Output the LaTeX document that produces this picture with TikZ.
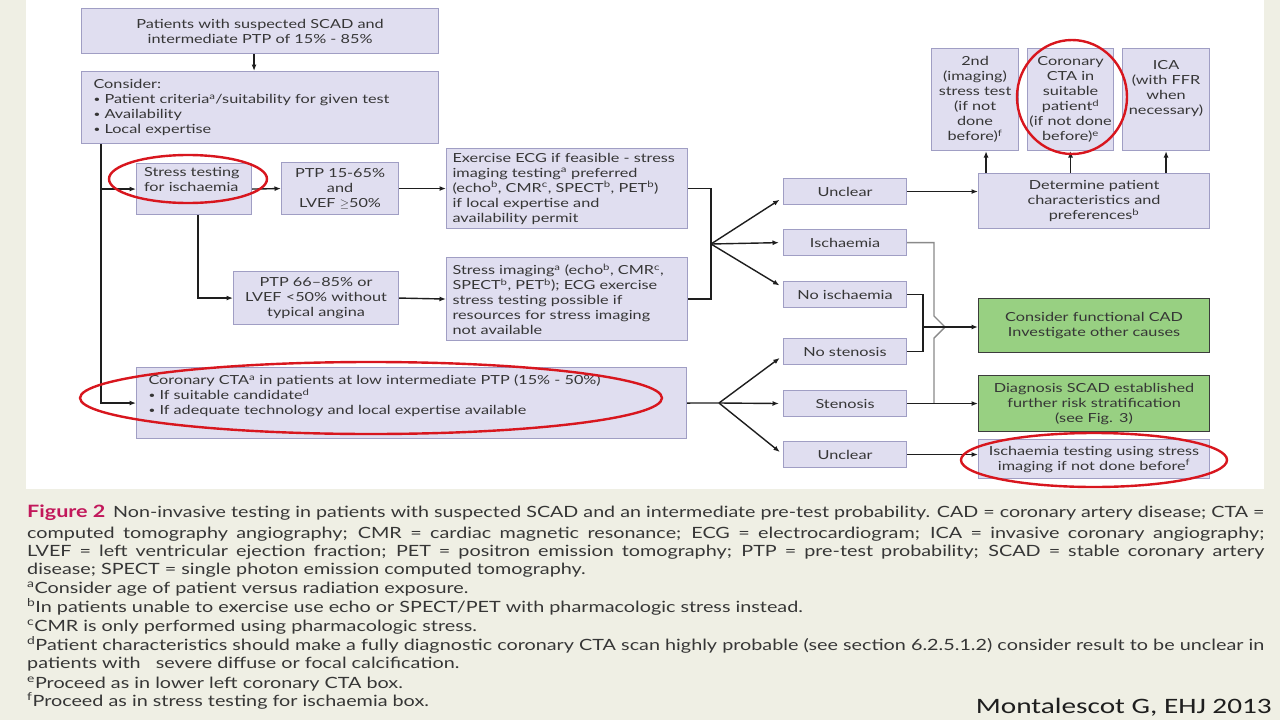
\documentclass[tikz,border=0pt]{standalone}
\usepackage{fontspec}
\usepackage{graphicx}
\usetikzlibrary{arrows.meta,calc}
\newfontfamily\boxfont[FakeStretch=1.3]{Lato}
\newfontfamily\capfont[FakeStretch=1.276]{Lato}
\newfontfamily\credfont[FakeStretch=1.33]{Carlito}
\newcommand\bxf{\boxfont\fontsize{12.5}{15}\selectfont}
\newcommand\cpf{\capfont\fontsize{15.5}{19}\selectfont}
\newcommand\sps[1]{\textsuperscript{#1}}
\newcommand\bul{{\fontsize{9}{10}\selectfont\raisebox{0.25ex}{•}}}
\newlength\jw
\newcommand\jline[1]{\settowidth\jw{#1}\ifdim\jw>1237pt\resizebox{1237pt}{\height}{#1}\else\makebox[1237pt][s]{#1}\fi}
\definecolor{pagebg}{HTML}{EFEFE4}
\definecolor{boxfill}{HTML}{E0DEF0}
\definecolor{boxline}{HTML}{A09EC4}
\definecolor{gfill}{HTML}{98D082}
\definecolor{gline}{HTML}{3C3C3C}
\definecolor{txt}{HTML}{363636}
\definecolor{ink}{HTML}{1E1E1E}
\definecolor{midgray}{HTML}{8A8A8A}
\definecolor{ringred}{HTML}{D8161E}
\definecolor{figred}{HTML}{C2185B}
\tikzset{
  box/.style={draw=boxline, fill=boxfill, line width=1.1pt, inner sep=0pt, anchor=north west, text=txt, font=\bxf},
  gbox/.style={box, draw=gline, fill=gfill},
  small/.style={box, minimum width=123, minimum height=26, text width=115pt, align=center},
  tall/.style={box, minimum height=102, align=center},
  link/.style={draw=ink, line width=1.4pt},
  arr/.style={link, -{Latex[length=6.5pt,width=5pt]}},
  fanarr/.style={arr, shorten >=4pt},
  grayln/.style={draw=midgray, line width=1.4pt},
  ring/.style={draw=ringred, line width=2.4pt},
  capl/.style={anchor=base west, inner sep=0pt, text=txt, font=\cpf}
}
\begin{document}
\begin{tikzpicture}[x=1pt,y=-1pt]
\useasboundingbox (0,0) rectangle (1280,720);
\fill[pagebg] (0,0) rectangle (1280,720);
\fill[white] (26,0) rectangle (1264,489);

% left column
\node[box, minimum width=357, minimum height=45, text width=345pt, align=center] (top) at (81,8)
  {Patients with suspected SCAD and\\intermediate PTP of 15\% - 85\%};
\node[box, minimum width=357, minimum height=72, text width=333pt, align=left] (consider) at (81,71)
  {Consider:\\\bul\ Patient criteria\sps{a}/suitability for given test\\\bul\ Availability\\\bul\ Local expertise};
\node[box, minimum width=115, minimum height=51, text width=100pt, align=left, text depth=35pt] (stress) at (136,163)
  {Stress testing\\for ischaemia};
\node[box, minimum width=117, minimum height=52, text width=105pt, align=center] (ptp1) at (281,162)
  {PTP 15-65\%\\and\\LVEF $\geq$50\%};
\node[box, minimum width=241, minimum height=80, text width=229pt, align=left] (ex) at (446,148)
  {Exercise ECG if feasible - stress\\imaging testing\sps{a} preferred\\(echo\sps{b}, CMR\sps{c}, SPECT\sps{b}, PET\sps{b})\\if local expertise and\\availability permit};
\node[box, minimum width=165, minimum height=53, text width=155pt, align=center] (ptp2) at (233,271)
  {PTP 66–85\% or\\LVEF <50\% without\\typical angina};
\node[box, minimum width=241, minimum height=83, text width=229pt, align=left] (si) at (446,257)
  {Stress imaging\sps{a} (echo\sps{b}, CMR\sps{c},\\SPECT\sps{b}, PET\sps{b}); ECG exercise\\stress testing possible if\\resources for stress imaging\\not available};
\node[box, minimum width=550, minimum height=71, text width=526pt, align=left, text depth=46pt] (cta) at (136,367)
  {Coronary CTA\sps{a} in patients at low intermediate PTP (15\% - 50\%)\\\bul\ If suitable candidate\sps{d}\\\bul\ If adequate technology and local expertise available};

% result boxes
\node[small] (u1) at (783,178) {Unclear};
\node[small] (isc) at (783,229) {Ischaemia};
\node[small] (noi) at (783,281) {No ischaemia};
\node[small] (nos) at (783,338) {No stenosis};
\node[small] (sten) at (783,390) {Stenosis};
\node[small] (u2) at (783,441) {Unclear};

% right column
\node[box, minimum width=231, minimum height=55, text width=219pt, align=center] (det) at (978,173)
  {Determine patient\\characteristics and\\preferences\sps{b}};
\node[gbox, minimum width=231, minimum height=54, text width=219pt, align=center] (fc) at (978,298)
  {Consider functional CAD\\Investigate other causes};
\node[gbox, minimum width=231, minimum height=56, text width=219pt, align=center] (diag) at (978,375)
  {Diagnosis SCAD established\\further risk stratification\\(see Fig. 3)};
\node[box, minimum width=231, minimum height=39, text width=219pt, align=center] (it) at (978,439)
  {Ischaemia testing using stress\\imaging if not done before\sps{f}};
\node[tall, minimum width=87, text width=83pt] (b1) at (931,48)
  {2nd\\(imaging)\\stress test\\(if not\\done\\before)\sps{f}};
\node[tall, minimum width=86, text width=84pt] (b2) at (1027,48)
  {Coronary\\CTA in\\suitable\\patient\sps{d}\\(if not done\\before)\sps{e}};
\node[tall, minimum width=87, text width=83pt, text depth=69pt] (b3) at (1122,48)
  {ICA\\(with FFR\\when\\necessary)};

% coordinates
\coordinate (tk) at (101,0);
\coordinate (f1) at (711,244);
\coordinate (f2) at (719,403);
\coordinate (nb) at (923,327);
\coordinate (j1) at (934,316);
\coordinate (j2) at (945,327);
\coordinate (j3) at (934,338);

% connectors
\draw[arr] ([xshift=-6pt]top.south) -- ([xshift=-6pt]consider.north);
\draw[arr] (consider.south -| tk) |- (cta.west);
\draw[arr] (tk |- stress.west) -- (stress.west);
\draw[arr] (stress.east) -- (ptp1.west);
\draw[arr] (ptp1.east) -- (ex.west);
\draw[arr] ([xshift=4pt]stress.south) |- (ptp2.west);
\draw[arr] (ptp2.east) -- (si.west);
\draw[link] (ex.east) -| (f1) |- (si.east);
\draw[fanarr] (f1) -- ([yshift=-6pt]u1.west);
\draw[fanarr] (f1) -- (isc.west);
\draw[fanarr] (f1) -- ([yshift=7pt]noi.west);
\draw[link] (cta.east) -- (f2);
\draw[fanarr] (f2) -- ([yshift=-4pt]nos.west);
\draw[fanarr] (f2) -- (sten.west);
\draw[fanarr] (f2) -- (u2.west);
\draw[arr] (u1.east) -- (u1.east -| det.west);
\draw[arr] ([xshift=11pt]b1.south |- det.north) -- ([xshift=11pt]b1.south);
\draw[arr] (b2.south |- det.north) -- (b2.south);
\draw[arr] (b3.south |- det.north) -- (b3.south);
\draw[grayln] (isc.east) -| (j1) -- (j2) -- (j3) -- (j3 |- sten.east);
\draw[link] (noi.east) -| (nb) |- (nos.east);
\draw[arr] (nb) -- (nb -| fc.west);
\draw[arr] (sten.east) -- (sten.east -| diag.west);
\draw[arr] (u2.east) -- (u2.east -| it.west);

% red rings
\draw[ring] (188,179) ellipse [x radius=79, y radius=24];
\draw[ring] (1072,97) ellipse [x radius=55, y radius=57];
\draw[ring] (371,398) ellipse [x radius=291, y radius=36];
\draw[ring] (1094,460) ellipse [x radius=133, y radius=27];

% caption
\node[capl] (c1) at (27,517) {\jline{{\fontsize{17}{19}\selectfont\bfseries\color{figred}Figure 2}\enspace Non-invasive testing in patients with suspected SCAD and an intermediate pre-test probability. CAD = coronary artery disease; CTA =}};
\node[capl] (c2) at (27,538) {\jline{computed tomography angiography; CMR = cardiac magnetic resonance; ECG = electrocardiogram; ICA = invasive coronary angiography;}};
\node[capl] (c3) at (27,556) {\jline{LVEF = left ventricular ejection fraction; PET = positron emission tomography; PTP = pre-test probability; SCAD = stable coronary artery}};
\node[capl] (c4) at (27,574) {disease; SPECT = single photon emission computed tomography.};
\node[capl] (c5) at (27,593) {\sps{a}Consider age of patient versus radiation exposure.};
\node[capl] (c6) at (27,612) {\sps{b}In patients unable to exercise use echo or SPECT/PET with pharmacologic stress instead.};
\node[capl] (c7) at (27,631) {\sps{c}CMR is only performed using pharmacologic stress.};
\node[capl] (c8) at (27,650) {\jline{\sps{d}Patient characteristics should make a fully diagnostic coronary CTA scan highly probable (see section 6.2.5.1.2) consider result to be unclear in}};
\node[capl] (c9) at (27,668) {patients with\ \ \ severe diffuse or focal calcification.};
\node[capl] (c10) at (27,688) {\sps{e}Proceed as in lower left coronary CTA box.};
\node[capl] (c11) at (27,706) {\sps{f}Proceed as in stress testing for ischaemia box.};
\node[anchor=base east, inner sep=0pt, text=ink, font=\credfont\fontsize{22}{26}\selectfont] (cred) at (1272,713) {Montalescot G, EHJ 2013};
\end{tikzpicture}
\end{document}
